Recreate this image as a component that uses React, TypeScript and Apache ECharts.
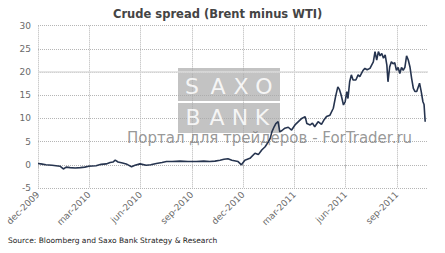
import React, { useEffect, useRef } from "react";
import * as echarts from "echarts";

// x values: days since 1 Dec 2009; y values: Brent minus WTI spread (USD)
const days = [
  0, 5, 14, 25, 32, 39, 45, 50, 57, 66, 75, 83, 90, 103, 112, 121, 128, 133, 137, 142,
  150, 158, 166, 172, 181, 192, 200, 210, 220, 228, 238, 252, 266, 281, 294, 305, 314, 323, 330, 337,
  344, 355, 361, 367, 376, 385, 391, 397, 403, 409, 412, 415, 419, 422, 426, 429, 433, 438, 444, 450,
  456, 462, 468, 474, 477, 483, 487, 491, 497, 503, 507, 512, 518, 524, 528, 532, 535, 538, 542, 545,
  548, 550, 553, 556, 559, 564, 568, 571, 577, 580, 584, 589, 592, 595, 598, 601, 604, 607, 610, 613,
  616, 619, 621, 624, 627, 630, 633, 636, 639, 642, 645, 648, 651, 654, 657, 660, 663, 666, 669, 672,
  677, 680, 683, 685, 687,
];
const spread = [
  0.3, 0.2, 0.0, -0.1, -0.2, -0.3, -0.9, -0.5, -0.6, -0.7, -0.6, -0.5, -0.3, -0.2, 0.1, 0.2, 0.5, 0.6, 1.0, 0.6,
  0.4, 0.1, -0.4, -0.1, 0.2, -0.1, 0.0, 0.3, 0.5, 0.7, 0.7, 0.8, 0.7, 0.7, 0.8, 0.7, 0.8, 1.0, 1.2, 1.3,
  1.0, 0.7, 0.0, 1.0, 1.4, 2.5, 2.2, 3.2, 3.9, 5.0, 5.7, 7.1, 8.2, 8.9, 9.3, 7.1, 7.4, 7.9, 8.1, 7.5,
  8.6, 9.3, 10.0, 10.4, 8.9, 8.6, 9.0, 8.2, 9.3, 8.7, 9.6, 10.4, 10.7, 12.2, 14.7, 16.8, 16.2, 15.0, 12.9, 13.6,
  15.8, 14.3, 17.9, 19.4, 18.3, 18.3, 19.4, 19.0, 20.4, 20.8, 20.5, 20.8, 21.5, 22.2, 24.4, 22.6, 24.4, 23.5, 24.0, 23.0,
  23.7, 21.5, 17.9, 21.1, 22.2, 21.8, 22.0, 20.4, 21.0, 19.7, 21.0, 20.4, 21.0, 23.5, 22.6, 21.1, 18.6, 16.5, 15.8, 15.8,
  17.6, 15.8, 13.6, 13.0, 9.3,
];
const tickLabels = [
  "dec-2009", "mar-2010", "jun-2010", "sep-2010", "dec-2010", "mar-2011", "jun-2011", "sep-2011",
];
const tickStep = 91;
const xMax = 692;
const title = "Crude spread (Brent minus WTI)";
const source = "Source: Bloomberg and Saxo Bank Strategy & Research";
const watermark = "Портал для трейдеров - ForTrader.ru";

export default function App() {
  const ref = useRef<HTMLDivElement>(null);
  useEffect(() => {
    if (!ref.current) return;
    const chart = echarts.init(ref.current, undefined, { renderer: "svg" });
    const font = "DejaVu Sans";
    const letter = (ch: string, x: number, y: number) => ({
      type: "text",
      z: 1,
      silent: true,
      x,
      y,
      style: {
        text: ch,
        fill: "rgba(255,255,255,0.85)",
        font: `22px ${font}`,
        textAlign: "center",
        textVerticalAlign: "middle",
      },
    });
    const saxoX = [192, 218, 241, 264];
    const bankX = [193, 217, 240, 262];
    chart.setOption({
      animation: false,
      backgroundColor: "#ffffff",
      title: {
        text: title,
        left: 108,
        top: 3,
        textStyle: { fontFamily: font, fontSize: 11.5, fontWeight: "bold", color: "#444444" },
      },
      grid: { left: 38, right: 17, top: 25.7, bottom: 65, containLabel: false },
      xAxis: {
        type: "value",
        min: 0,
        max: xMax,
        interval: tickStep,
        axisLine: { show: false },
        axisTick: { show: true, length: 3, lineStyle: { color: "#bbbbbb" } },
        splitLine: { show: true, showMaxLine: false, lineStyle: { type: "dotted", color: "#b5b5b5" } },
        axisLabel: {
          rotate: 45,
          margin: 5,
          fontFamily: font,
          fontSize: 9,
          color: "#6a6a6a",
          showMaxLabel: false,
          formatter: (v: number) => {
            const i = Math.round(v / tickStep);
            return Math.abs(v - i * tickStep) < 0.01 && tickLabels[i] ? tickLabels[i] : "";
          },
        },
      },
      yAxis: {
        type: "value",
        min: -5,
        max: 30,
        interval: 5,
        axisLine: { show: false },
        axisTick: { show: false },
        splitLine: { show: true, lineStyle: { type: "dotted", color: "#b5b5b5" } },
        axisLabel: { fontFamily: font, fontSize: 9, color: "#6a6a6a", margin: 7 },
      },
      graphic: [
        { type: "rect", z: 1, silent: true, shape: { x: 178, y: 68, width: 102, height: 33 }, style: { fill: "rgba(170,170,170,0.7)" } },
        { type: "rect", z: 1, silent: true, shape: { x: 178, y: 103, width: 102, height: 30 }, style: { fill: "rgba(170,170,170,0.7)" } },
        ...saxoX.map((x, i) => letter("SAXO"[i], x, 86)),
        ...bankX.map((x, i) => letter("BANK"[i], x, 117)),
        {
          type: "text",
          z: 1,
          silent: true,
          x: 127,
          y: 138,
          style: {
            text: watermark,
            fill: "rgba(125,125,125,0.8)",
            font: `15px ${font}`,
            textAlign: "left",
            textVerticalAlign: "middle",
          },
        },
        {
          type: "text",
          left: 8,
          top: 236,
          style: { text: source, fill: "#222222", font: `7.5px ${font}` },
        },
      ],
      series: [
        {
          type: "line",
          z: 3,
          data: days.map((d, i) => [d, spread[i]]),
          showSymbol: false,
          symbol: "none",
          lineStyle: { color: "#26344f", width: 1.6 },
          markLine: {
            silent: true,
            symbol: "none",
            label: { show: false },
            lineStyle: { color: "#dddddd", type: "solid", width: 1.5 },
            data: [{ yAxis: 20 }],
            z: 1,
          },
        },
      ],
    });
    return () => chart.dispose();
  }, []);
  return <div ref={ref} style={{ width: 445, height: 253, position: "absolute", left: 0, top: 0 }} />;
}
